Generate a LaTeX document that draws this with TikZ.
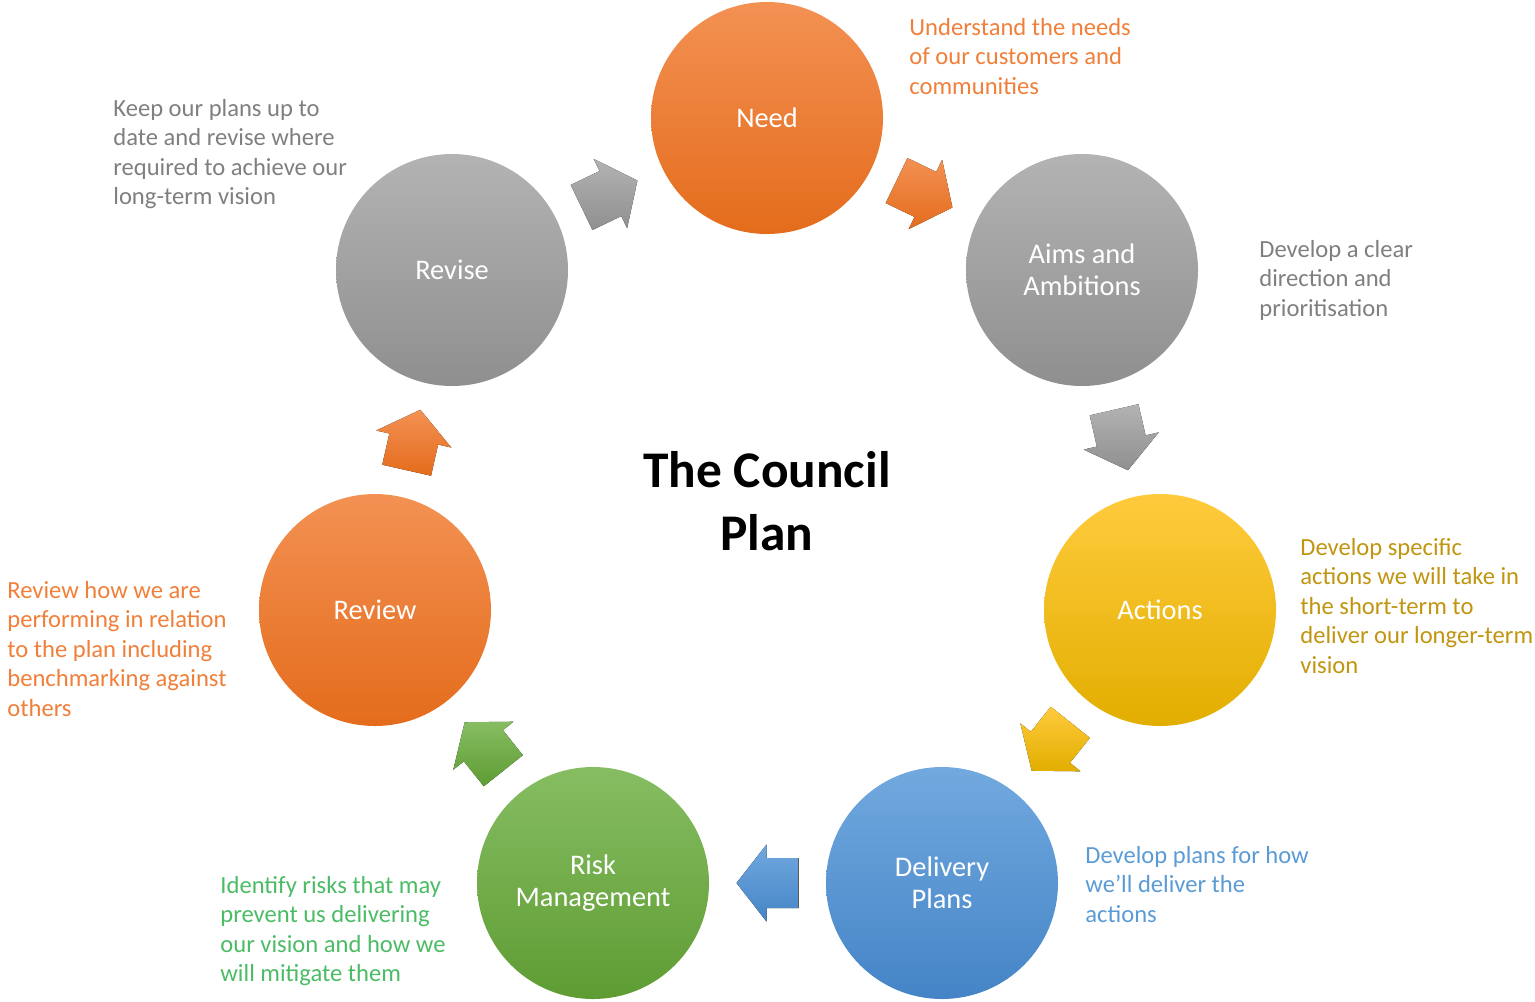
\documentclass[tikz,border=0pt]{standalone}
\usepackage{fontspec}
\setmainfont{Carlito}
\usetikzlibrary{calc}

\definecolor{orangetop}{HTML}{F39153}
\definecolor{orangebot}{HTML}{E46C1C}
\definecolor{graytop}{HTML}{B3B3B3}
\definecolor{graybot}{HTML}{8F8F8F}
\definecolor{goldtop}{HTML}{FFCB3D}
\definecolor{goldbot}{HTML}{E2AE00}
\definecolor{bluetop}{HTML}{72A9DF}
\definecolor{bluebot}{HTML}{4484C6}
\definecolor{greentop}{HTML}{86BD62}
\definecolor{greenbot}{HTML}{5E9C33}

\definecolor{orangetext}{HTML}{F07F3A}
\definecolor{graytext}{HTML}{7F7F7F}
\definecolor{goldtext}{HTML}{C09510}
\definecolor{bluetext}{HTML}{5B9BD5}
\definecolor{greentext}{HTML}{4CBB66}

% block arrow half way between two stages
\newcommand{\cyclearrow}[3]{%
  \path let \p1 = ($(#2)-(#1)$), \n1 = {atan2(\y1,\x1)} in
    coordinate (arrmid) at ($(#1)!0.5!(#2)$) \pgfextra{\xdef\arrowangle{\n1}};
  \fill[top color=#3top, bottom color=#3bot, shift={(arrmid)}, rotate=\arrowangle]
    (-31,-25) -- (1,-25) -- (1,-38.5) -- (31,0) -- (1,38.5) -- (1,25) -- (-31,25) -- cycle;
}

\begin{document}
\begin{tikzpicture}[x=0.5pt, y=-0.5pt,
    stage/.style={circle, minimum size=116pt, inner sep=0pt, align=center, text=white,
      font=\fontsize{14.2}{16}\selectfont},
    note/.style={anchor=north west, align=left, inner sep=0pt,
      font=\fontsize{12.3}{14.75}\selectfont}]

    \useasboundingbox (0,0) rectangle (1535,1001);

    % Stages of the cycle
    \node[stage, top color=orangetop, bottom color=orangebot] (need) at (767,118) {Need};
    \node[stage, top color=graytop, bottom color=graybot] (aims) at (1082,270) {Aims and\\Ambitions};
    \node[stage, top color=goldtop, bottom color=goldbot] (actions) at (1160,610) {Actions};
    \node[stage, top color=bluetop, bottom color=bluebot] (delivery) at (942,883) {Delivery\\Plans};
    \node[stage, top color=greentop, bottom color=greenbot] (risk) at (593,883) {Risk\\Management};
    \node[stage, top color=orangetop, bottom color=orangebot] (review) at (375,610) {Review};
    \node[stage, top color=graytop, bottom color=graybot] (revise) at (452,270) {Revise};

    % Title
    \node[font=\fontsize{25.7}{31.5}\selectfont\bfseries, align=center] (title) at (767,501) {The Council\\Plan};

    % Arrows
    \cyclearrow{revise}{need}{gray}
    \cyclearrow{need}{aims}{orange}
    \cyclearrow{aims}{actions}{gray}
    \cyclearrow{actions}{delivery}{gold}
    \cyclearrow{delivery}{risk}{blue}
    \cyclearrow{risk}{review}{green}
    \cyclearrow{review}{revise}{orange}

    % Notes
    \node[note, text=orangetext] (neednote) at (909,18) {Understand the needs\\of our customers and\\communities};
    \node[note, text=graytext] (aimsnote) at (1259,240) {Develop a clear\\direction and\\prioritisation};
    \node[note, text=goldtext] (actionsnote) at (1300,538) {Develop specific\\actions we will take in\\the short-term to\\deliver our longer-term\\vision};
    \node[note, text=bluetext] (deliverynote) at (1085,846) {Develop plans for how\\we’ll deliver the\\actions};
    \node[note, text=greentext] (risknote) at (220,876) {Identify risks that may\\prevent us delivering\\our vision and how we\\will mitigate them};
    \node[note, text=orangetext] (reviewnote) at (7,581) {Review how we are\\performing in relation\\to the plan including\\benchmarking against\\others};
    \node[note, text=graytext] (revisenote) at (113,99) {Keep our plans up to\\date and revise where\\required to achieve our\\long-term vision};

\end{tikzpicture}
\end{document}
